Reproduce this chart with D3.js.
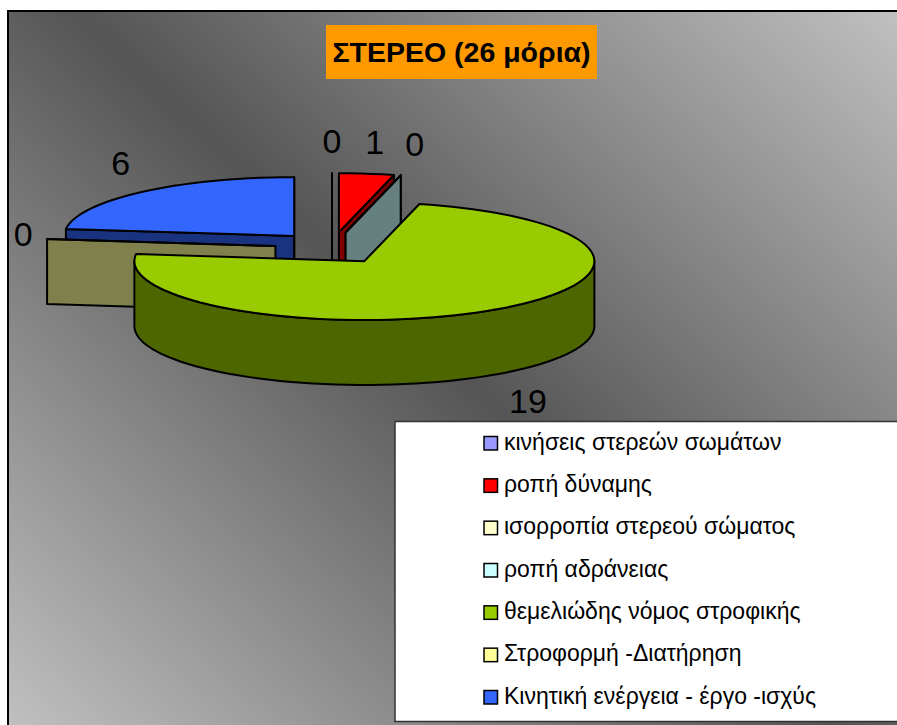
<!DOCTYPE html>
<meta charset="utf-8">
<head>
  <script src="https://cdnjs.cloudflare.com/ajax/libs/d3/7.8.5/d3.min.js"></script>
</head>
<style>
  body {
    margin: 0;
    background: #fff;
  }
  svg {
    display: block;
  }
  text {
    font-family: "Liberation Sans", Arial, sans-serif;
    fill: #000;
  }
</style>
<body>
</body>
<script type="text/javascript">
  var chartTitle = "ΣΤΕΡΕΟ (26 μόρια)";
  var categories = [
    "κινήσεις στερεών σωμάτων",
    "ροπή δύναμης",
    "ισορροπία στερεού σώματος",
    "ροπή αδράνειας",
    "θεμελιώδης νόμος στροφικής",
    "Στροφορμή -Διατήρηση",
    "Κινητική ενέργεια - έργο -ισχύς"
  ];
  var values = [0, 1, 0, 0, 19, 0, 6];
  var colors = ["#9999ff", "#ff0000", "#ffffcc", "#ccffff", "#99cc00", "#ffff99", "#3366ff"];

  var width = 897, height = 725;

  // pie geometry
  var cx = 332, cy = 248;
  var radius = 230, squash = 0.256;
  var explode = 57, explodeSquash = 0.28;
  var depth = 65;

  var svg = d3.select("body").append("svg")
      .attr("width", width)
      .attr("height", height);

  // grey background, dark band runs corner to corner
  var grad = svg.append("defs").append("linearGradient")
      .attr("id", "bg")
      .attr("gradientUnits", "userSpaceOnUse")
      .attr("x1", 871).attr("y1", -14)
      .attr("x2", 95).attr("y2", 807);
  grad.append("stop").attr("offset", "0").attr("stop-color", "#c0c0c0");
  grad.append("stop").attr("offset", "0.5").attr("stop-color", "#555");
  grad.append("stop").attr("offset", "1").attr("stop-color", "#c0c0c0");

  svg.append("rect")
      .attr("x", 8).attr("y", 11)
      .attr("width", width).attr("height", height)
      .attr("fill", "url(#bg)")
      .attr("stroke", "#000")
      .attr("stroke-width", 2);

  // title
  svg.append("rect")
      .attr("x", 326).attr("y", 25)
      .attr("width", 271).attr("height", 54)
      .attr("fill", "#ff9900");
  svg.append("text")
      .attr("x", 461.5).attr("y", 62)
      .attr("text-anchor", "middle")
      .attr("font-size", 28.5)
      .attr("font-weight", "bold")
      .text(chartTitle);

  // pie
  var pie = d3.pie().sort(null).startAngle(0).endAngle(2 * Math.PI);
  var slices = pie(values);
  var line = d3.line();

  function apex(d) {
    var mid = (d.startAngle + d.endAngle) / 2;
    return [cx + explode * Math.sin(mid), cy - explode * explodeSquash * Math.cos(mid)];
  }
  function rim(d, a, drop) {
    var c = apex(d);
    return [c[0] + radius * Math.sin(a), c[1] - radius * squash * Math.cos(a) + (drop || 0)];
  }
  function angles(a, b) {
    var n = Math.max(1, Math.ceil((b - a) / 0.05));
    return d3.range(n + 1).map(function(i) { return a + (b - a) * i / n; });
  }
  function darker(c) {
    var rgb = d3.rgb(c);
    return d3.rgb(rgb.r / 2, rgb.g / 2, rgb.b / 2).formatHex();
  }
  function radialWall(d, a) {
    var c = apex(d);
    return line([c, rim(d, a), rim(d, a, depth), [c[0], c[1] + depth], c]);
  }

  var pieG = svg.append("g")
      .attr("stroke", "#000")
      .attr("stroke-width", 2)
      .attr("stroke-linejoin", "round");

  // back to front, same order the picture stacks them in
  [0, 1, 2, 3, 6, 5, 4].forEach(function(i) {
    var d = slices[i];
    var a = d.startAngle, b = d.endAngle;
    var side = darker(colors[i]);
    var g = pieG.append("g");

    if (Math.sin(a) < -1e-6) g.append("path").attr("d", radialWall(d, a)).attr("fill", side);
    if (Math.sin(b) >= -1e-6) g.append("path").attr("d", radialWall(d, b)).attr("fill", side);

    var from = Math.max(a, Math.PI / 2), to = Math.min(b, 3 * Math.PI / 2);
    if (to > from) {
      var top = angles(from, to).map(function(t) { return rim(d, t); });
      var bottom = angles(from, to).reverse().map(function(t) { return rim(d, t, depth); });
      g.append("path").attr("d", line(top.concat(bottom)) + "Z").attr("fill", side);
    }

    var face = [apex(d)].concat(angles(a, b).map(function(t) { return rim(d, t); }));
    g.append("path").attr("d", line(face) + "Z").attr("fill", colors[i]);
  });

  // value labels, hand nudged from the slice rim (third slice has no label in the picture)
  var nudges = [[0, -20], [8, -20], null, [14, -19], [33, 103], [-24, 7], [-21, -17]];
  slices.forEach(function(d, i) {
    if (!nudges[i]) return;
    var mid = (d.startAngle + d.endAngle) / 2;
    var p = rim(d, mid);
    svg.append("text")
        .attr("x", p[0] + nudges[i][0])
        .attr("y", p[1] + nudges[i][1])
        .attr("text-anchor", "middle")
        .attr("font-size", 34)
        .text(values[i]);
  });

  // legend
  svg.append("rect")
      .attr("x", 395).attr("y", 421.5)
      .attr("width", 503).attr("height", 300)
      .attr("fill", "#fff")
      .attr("stroke", "#333")
      .attr("stroke-width", 1.5);

  var rowY = d3.scalePoint().domain(categories).range([443, 697]);

  var rows = svg.selectAll(".row")
      .data(categories)
      .enter().append("g")
      .attr("class", "row")
      .attr("transform", function(d) { return "translate(0," + rowY(d) + ")"; });

  rows.append("rect")
      .attr("x", 484).attr("y", -6.5)
      .attr("width", 13.5).attr("height", 13.5)
      .attr("fill", function(d, i) { return colors[i]; })
      .attr("stroke", "#000")
      .attr("stroke-width", 1.5);

  rows.append("text")
      .attr("x", 504).attr("y", 6.5)
      .attr("font-size", 23)
      .text(function(d) { return d; });
</script>
